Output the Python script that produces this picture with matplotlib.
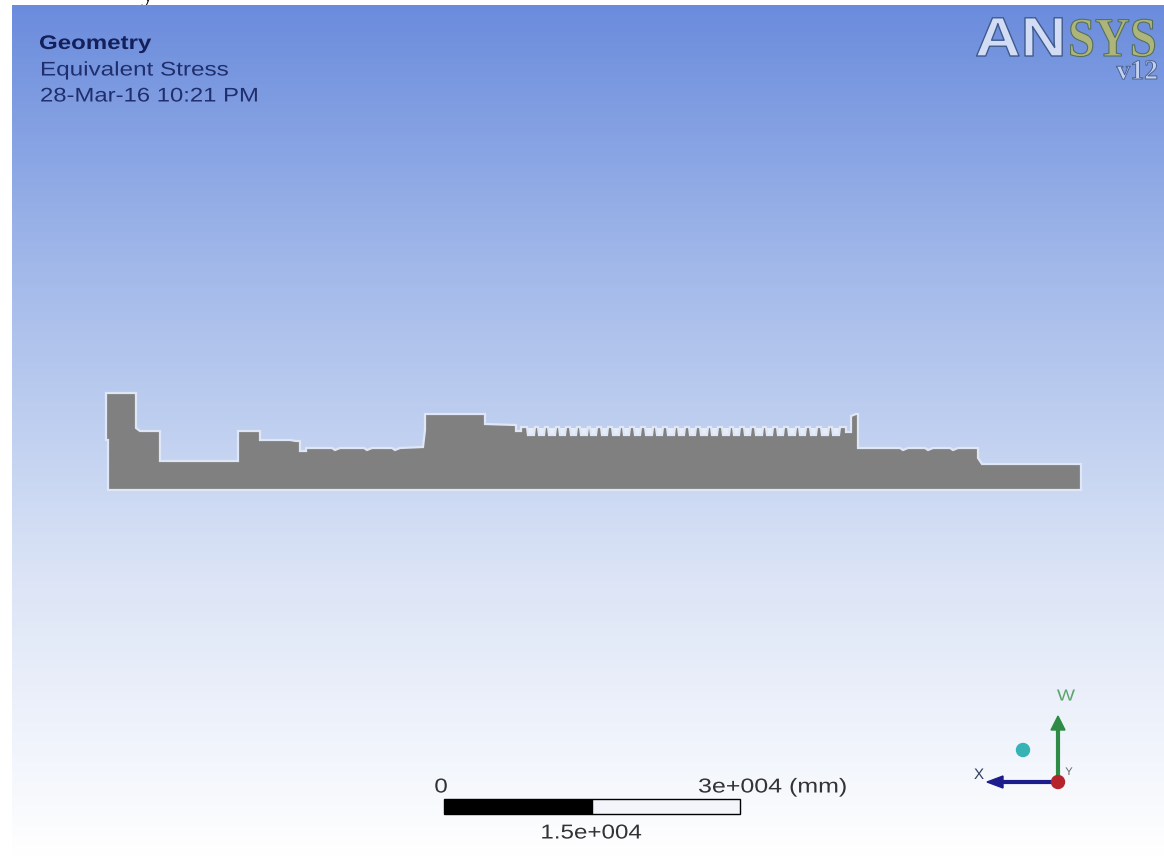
import numpy as np
import matplotlib
matplotlib.use('Agg')
import matplotlib.pyplot as plt
from matplotlib.colors import LinearSegmentedColormap
from matplotlib.patheffects import AbstractPathEffect
from matplotlib.transforms import Affine2D
from matplotlib.patches import Rectangle, Circle, Polygon

W, H = 1164, 862

# Part profile in image pixels: the left and right stepped outlines
left_x = [108, 108, 106, 106, 136, 136, 140, 160, 160, 238, 238, 260, 260, 290, 296, 298, 300, 300, 306, 306,
          332, 335, 340, 364, 367, 372, 392, 395, 400, 423, 425, 425, 485, 485, 516, 516, 521, 521]
left_y = [491, 441, 441, 394, 394, 429, 432, 432, 462, 462, 432, 432, 441, 441, 442, 442, 442, 452, 452, 449,
          449, 451, 449, 449, 451, 449, 449, 451, 449, 448, 431, 415, 415, 425, 426, 432, 432, 428]
notch_left = [527, 538, 548, 559, 570, 580, 590, 601, 612, 623, 634, 645, 656, 667, 678, 689, 700, 711, 722,
              733, 744, 755, 766, 777, 788, 799, 810, 821, 832]
notch_width = [8, 7, 8, 7, 7, 8, 7, 7, 8, 7, 7, 8, 7, 8, 7, 7, 8, 7, 8, 7, 7, 8, 7, 7, 8, 7, 7, 8, 8]
notch_top, notch_floor = 428, 436
right_x = [846, 846, 851, 851, 856, 858, 858, 900, 903, 908, 925, 928, 933, 950, 953, 958, 978, 978, 982, 1081, 1081]
right_y = [428, 433, 433, 417, 415, 415, 449, 449, 451, 449, 449, 451, 449, 449, 451, 449, 449, 459, 465, 465, 491]

# Scale bar
scale_values = [0, 15000, 30000]
scale_labels = ['0', '1.5e+004', '3e+004 (mm)']
header_lines = ['Geometry', 'Equivalent Stress', '28-Mar-16 10:21 PM']


class Stretch(AbstractPathEffect):
    """Widen or narrow real text horizontally about its anchor, with an optional edge."""
    def __init__(self, sx, x0, edge=None, lw=0):
        super().__init__()
        self.sx, self.x0, self.edge, self.lw = sx, x0, edge, lw

    def draw_path(self, renderer, gc, tpath, affine, rgbFace=None):
        t = affine + Affine2D().translate(-self.x0, 0).scale(self.sx, 1).translate(self.x0, 0)
        gc2 = renderer.new_gc()
        gc2.copy_properties(gc)
        if self.edge is not None:
            gc2.set_foreground(self.edge)
            gc2.set_linewidth(self.lw)
        renderer.draw_path(gc2, tpath, t, rgbFace)
        gc2.restore()


dpi = 100
fig = plt.figure(figsize=(W / dpi, H / dpi), dpi=dpi, facecolor='white')
ax = fig.add_axes([0, 0, 1, 1])
ax.axis('off')

# Background gradient
cmap = LinearSegmentedColormap.from_list('bg', ['#6b8cdd', '#a6bcea', '#dbe4f6', '#ffffff'])
grad = np.linspace(0, 1, 256).reshape(-1, 1)
ax.imshow(grad, extent=[12, W, 860, 6], cmap=cmap, aspect='auto', zorder=0)
ax.set_xlim(0, W)
ax.set_ylim(H, 0)


def label(x, y, s, sx=1.0, edge=None, lw=0, **kw):
    kw.setdefault('family', 'Liberation Sans')
    kw.setdefault('zorder', 5)
    t = ax.text(x, y, s, **kw)
    t.set_path_effects([Stretch(sx, x, edge, lw)])
    return t


# Fragment of a letter above the picture (hidden below the picture's top edge)
ax.text(148, 1, 'y', family='Liberation Serif', fontsize=20, color='black',
        ha='center', va='baseline', zorder=-1, clip_on=True)

# Part outline
xs, ys = list(left_x), list(left_y)
for nl, nw in zip(notch_left, notch_width):
    xs += [nl, nl + 1, nl + nw - 1, nl + nw]
    ys += [notch_top, notch_floor, notch_floor, notch_top]
    ax.add_patch(Rectangle((nl, notch_top + 1), nw, notch_floor - notch_top - 1,
                           color='#e6ecf8', lw=0, zorder=1))
xs += right_x
ys += right_y
ax.fill(xs, ys, facecolor='#808080', edgecolor='#dfe7f6', lw=1.6, joinstyle='miter', zorder=2)

# Header text
label(39, 44.5, header_lines[0], sx=1.22, weight='bold', fontsize=14.2,
      color='#14205a', va='center', ha='left')
label(40, 71, header_lines[1], sx=1.23, fontsize=14.2,
      color='#1f2e6c', va='center', ha='left')
label(40, 97, header_lines[2], sx=1.21, fontsize=14.2,
      color='#1f2e6c', va='center', ha='left')

# Logo
label(975, 57, 'AN', sx=1.14, edge='#3f5a8c', lw=1.0, weight='bold', fontsize=40,
      color='#d3dcf5', va='baseline', ha='left')
label(1068, 57, 'SYS', sx=0.87, edge='#55705a', lw=0.8, family='Liberation Serif', weight='bold', fontsize=40,
      color='#aeb57a', va='baseline', ha='left')
label(1158, 80, 'v12', edge='#4a648f', lw=0.7, family='Liberation Serif', weight='bold', fontsize=20,
      color='#c4d0ef', va='baseline', ha='right')

# Scale bar
bar_x0, bar_x1 = 444, 740
bar_y0, bar_y1 = 800, 815
to_px = lambda v: bar_x0 + (bar_x1 - bar_x0) * v / scale_values[-1]
ax.add_patch(Rectangle((bar_x0, bar_y0), to_px(scale_values[1]) - bar_x0, bar_y1 - bar_y0,
                       facecolor='black', edgecolor='black', lw=1, zorder=5))
ax.add_patch(Rectangle((to_px(scale_values[1]), bar_y0), bar_x1 - to_px(scale_values[1]), bar_y1 - bar_y0,
                       facecolor='#f3f5fb', edgecolor='black', lw=1, zorder=5))
label(441, 788, scale_labels[0], sx=1.2, fontsize=14.5, color='#333333', ha='center', va='center')
label(591, 834, scale_labels[1], sx=1.2, fontsize=14.5, color='#333333', ha='center', va='center')
label(847, 788, scale_labels[2], sx=1.24, fontsize=14.5, color='#333333', ha='right', va='center')

# Triad
ax.plot([1058, 1058], [783, 728], color='#2e8b45', lw=3, solid_capstyle='butt', zorder=5)
ax.add_patch(Polygon([(1058, 717), (1051, 731), (1065, 731)], color='#2e8b45', zorder=5))
ax.plot([1058, 998], [783, 783], color='#1c1c8c', lw=3, solid_capstyle='butt', zorder=5)
ax.add_patch(Polygon([(987, 783), (1003, 777), (1003, 789)], color='#1c1c8c', zorder=5))
ax.add_patch(Circle((1058, 783), 6.5, color='#b5232b', zorder=6))
ax.add_patch(Circle((1023, 751), 6.5, color='#35b3b5', zorder=5))
label(1066, 697, 'W', sx=1.2, fontsize=11.5, color='#5aa56a', ha='center', va='center')
label(979, 776, 'X', fontsize=11, color='#33405f', ha='center', va='center')
label(1069, 773, 'Y', fontsize=8, color='#666666', ha='center', va='center')

fig.savefig('out.png', dpi=dpi, facecolor='white')
